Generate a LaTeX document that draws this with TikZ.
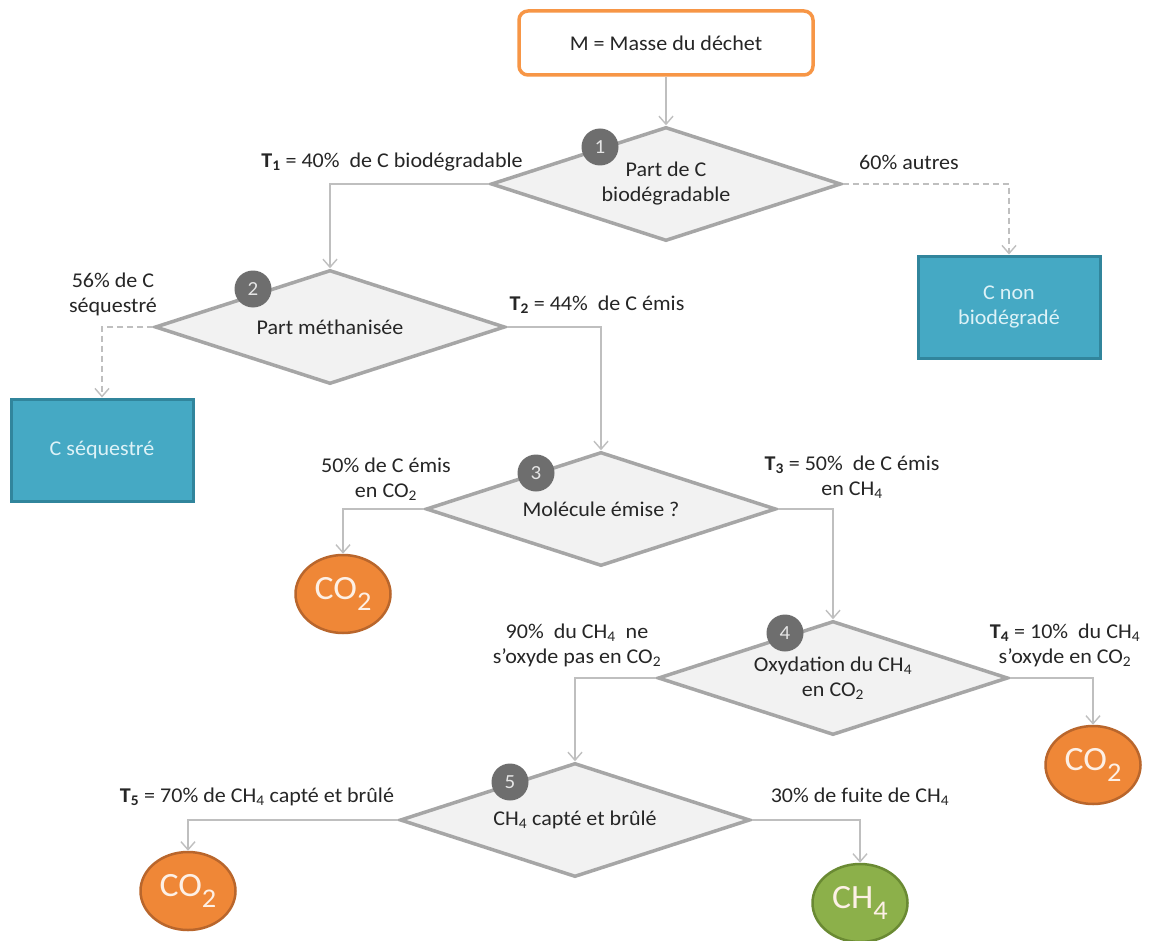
\documentclass[tikz,border=0pt]{standalone}
\usepackage{fontspec}
\setmainfont{Carlito}[FakeStretch=1.05]
\usetikzlibrary{shapes.geometric,arrows.meta}
\definecolor{txt}{HTML}{262626}
\definecolor{dfill}{HTML}{F2F2F2}
\definecolor{dgray}{HTML}{A6A6A6}
\definecolor{bgray}{HTML}{6E6E6E}
\definecolor{lgray}{HTML}{BFBFBF}
\definecolor{boxorange}{HTML}{F79646}
\definecolor{tealfill}{HTML}{45A9C4}
\definecolor{tealdark}{HTML}{31859C}
\definecolor{tealtext}{HTML}{DDF2F7}
\definecolor{orfill}{HTML}{EF8737}
\definecolor{ordark}{HTML}{B9662C}
\definecolor{grfill}{HTML}{8CB04A}
\definecolor{grdark}{HTML}{6A8A33}
\definecolor{gastext}{HTML}{FDF0E6}
\newcommand{\gasCO}{CO\raisebox{-0.32em}{\fontsize{27}{27}\selectfont 2}}
\newcommand{\gasCH}{CH\raisebox{-0.32em}{\fontsize{27}{27}\selectfont 4}}
\begin{document}
\begin{tikzpicture}[x=1pt,y=-1pt,
  font=\fontsize{21}{25}\selectfont,
  dec/.style={diamond, draw=dgray, fill=dfill, line width=3.5pt, minimum width=350pt, minimum height=114pt, inner sep=0pt, shape aspect=3.07, align=center, text=txt},
  badge/.style={circle, fill=bgray, minimum size=37pt, inner sep=0pt, text=white!90!black, font=\fontsize{20}{20}\selectfont},
  conn/.style={draw=lgray, line width=1.4pt, -{Straight Barb[length=8pt,width=14pt]}},
  dconn/.style={conn, dash pattern=on 6pt off 4pt},
  lbl/.style={align=center, text=txt, inner sep=0pt},
  sink/.style={rectangle, fill=tealfill, draw=tealdark, line width=3pt, minimum width=182pt, minimum height=102pt, text=tealtext, align=center},
  gas/.style={ellipse, minimum width=95pt, minimum height=78pt, inner sep=0pt, line width=2.5pt, text=gastext, font=\fontsize{34}{34}\selectfont},
  co2/.style={gas, fill=orfill, draw=ordark},
  ch4/.style={gas, fill=grfill, draw=grdark}
]
\useasboundingbox (0,0) rectangle (1155,941);
\fill[white] (0,0) rectangle (1155,941);

% top box
\node[draw=boxorange, line width=3.5pt, rounded corners=9pt, fill=white, minimum width=294pt, minimum height=64pt, text=txt] (m) at (666,43) {M = Masse du déchet};

% diamonds
\node[dec] (d1) at (666,184) {Part de C\\biodégradable};
\node[dec] (d2) at (330,327) {Part méthanisée};
\node[dec] (d3) at (601,509) {Molécule émise ?};
\node[dec] (d4) at (833,678) {Oxydation du CH\textsubscript{4}\\en CO\textsubscript{2}};
\node[dec] (d5) at (575,820) {CH\textsubscript{4} capté et brûlé};

% badges
\node[badge] (b1) at (600,147) {1};
\node[badge] (b2) at (253,289) {2};
\node[badge] (b3) at (536,473) {3};
\node[badge] (b4) at (785,633) {4};
\node[badge] (b5) at (510,782) {5};

% sinks
\node[sink] (cnb) at (1009,307) {C non\\biodégradé};
\node[sink] (cseq) at (102,450) {C séquestré};

% gas
\node[co2] (g1) at (343,594) {\gasCO};
\node[co2] (g2) at (1093,765) {\gasCO};
\node[co2] (g3) at (188,891) {\gasCO};
\node[ch4] (g4) at (860,903) {\gasCH};

% labels
\node[lbl] (l1) at (392,162) {\textbf{T\textsubscript{1}} = 40\% \ de C biodégradable};
\node[lbl] (l2) at (909,162) {60\% autres};
\node[lbl] (l3) at (113,294) {56\% de C\\séquestré};
\node[lbl] (l4) at (597,305) {\textbf{T\textsubscript{2}} = 44\% \ de C émis};
\node[lbl] (l5) at (386,479) {50\% de C émis\\en CO\textsubscript{2}};
\node[lbl] (l6) at (852,477) {\textbf{T\textsubscript{3}} = 50\% \ de C émis\\en CH\textsubscript{4}};
\node[lbl] (l7) at (577,645) {90\% \ du CH\textsubscript{4} \ ne\\s’oxyde pas en CO\textsubscript{2}};
\node[lbl] (l8) at (1065,645) {\textbf{T\textsubscript{4}} = 10\% \ du CH\textsubscript{4}\\s’oxyde en CO\textsubscript{2}};
\node[lbl] (l9) at (257,797) {\textbf{T\textsubscript{5}} = 70\% de CH\textsubscript{4} capté et brûlé};
\node[lbl] (l10) at (860,797) {30\% de fuite de CH\textsubscript{4}};

% connectors
\draw[conn] (m.south) -- (d1.north);
\draw[conn] (d1.west) -| (d2.north);
\draw[dconn] (d1.east) -| (cnb.north);
\draw[dconn] (d2.west) -| (cseq.north);
\draw[conn] (d2.east) -| (d3.north);
\draw[conn] (d3.west) -| (g1.north);
\draw[conn] (d3.east) -| (d4.north);
\draw[conn] (d4.west) -| (d5.north);
\draw[conn] (d4.east) -| (g2.north);
\draw[conn] (d5.west) -| (g3.north);
\draw[conn] (d5.east) -| (g4.north);
\end{tikzpicture}
\end{document}
